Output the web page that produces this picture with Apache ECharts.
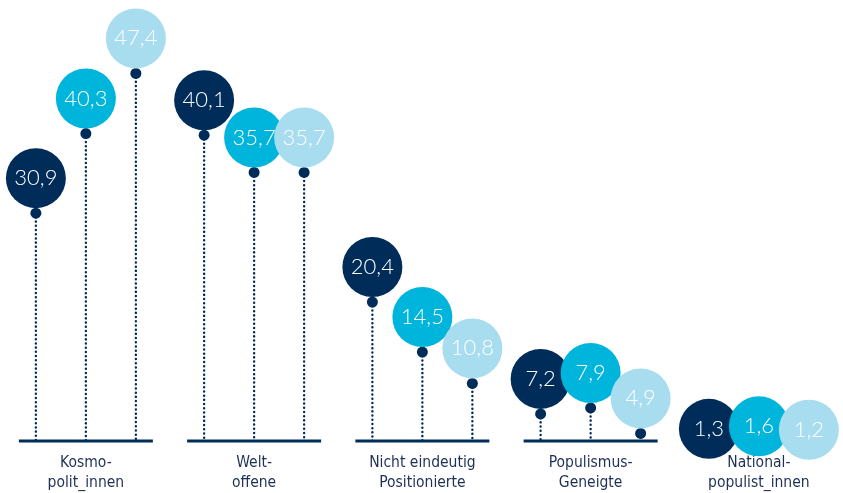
<!DOCTYPE html>
<html>
<head>
<meta charset="utf-8">
<script src="https://cdn.jsdelivr.net/npm/echarts@6/dist/echarts.min.js"></script>
<style>
html,body{margin:0;padding:0;background:#fff;}
#chart{width:843px;height:493px;}
</style>
</head>
<body>
<div id="chart"></div>
<script>
// ---- data ----
var categories = ['Kosmo-\npolit_innen', 'Welt-\noffene', 'Nicht eindeutig\nPositionierte', 'Populismus-\nGeneigte', 'National-\npopulist_innen'];
var seriesNames = ['Reihe 1', 'Reihe 2', 'Reihe 3'];
var series1 = [30.9, 40.1, 20.4, 7.2, 1.3];
var series2 = [40.3, 35.7, 14.5, 7.9, 1.6];
var series3 = [47.4, 35.7, 10.8, 4.9, 1.2];

// ---- style ----
var colors = ['#002c5a', '#00b5dc', '#a8dcef'];
var navy = '#002c5a';
var offsets = [-50, 0, 50];
var yMin = 4.0, yMax = 55;
var allSeries = [series1, series2, series3];

function fmt(v){ return String(v).replace('.', ','); }

var chart = echarts.init(document.getElementById('chart'), null, {renderer:'canvas'});

var seriesList = [];

// baselines per group
seriesList.push({
  type: 'custom',
  z: 1,
  data: categories.map(function(c, i){ return [i, yMin]; }),
  renderItem: function(params, api){
    var c = api.coord([api.value(0), api.value(1)]);
    return {
      type: 'line',
      shape: {x1: c[0] - 67, y1: c[1], x2: c[0] + 67, y2: c[1]},
      style: {stroke: navy, lineWidth: 3}
    };
  },
  silent: true
});

// stems
allSeries.forEach(function(arr, s){
  seriesList.push({
    type: 'custom',
    z: 2,
    data: arr.map(function(v, i){ return [i, v]; }),
    renderItem: function(params, api){
      var p = api.coord([api.value(0), api.value(1)]);
      var b = api.coord([api.value(0), yMin]);
      if (p[1] >= b[1]) return null;
      var x = p[0] + offsets[s];
      return {
        type: 'line',
        shape: {x1: x, y1: p[1], x2: x, y2: b[1]},
        style: {stroke: navy, lineWidth: 2.4, lineDash: [0.1, 4.1], lineCap: 'round'}
      };
    },
    silent: true
  });
});

// dots
allSeries.forEach(function(arr, s){
  seriesList.push({
    type: 'scatter',
    z: 3,
    clip: true,
    data: arr.map(function(v, i){ return [i, v]; }),
    symbol: 'circle',
    symbolSize: 11,
    symbolOffset: [offsets[s], 0],
    itemStyle: {color: navy, opacity: 1},
    silent: true
  });
});

// circles with labels
allSeries.forEach(function(arr, s){
  seriesList.push({
    type: 'scatter',
    name: seriesNames[s],
    z: 4 + s,
    clip: false,
    data: arr.map(function(v, i){ return [i, v]; }),
    symbol: 'circle',
    symbolSize: 60,
    symbolOffset: [offsets[s], -35],
    itemStyle: {color: colors[s], opacity: 1},
    label: {
      show: true,
      position: 'inside',
      formatter: function(p){ return fmt(p.value[1]); },
      color: '#ffffff',
      fontFamily: 'Lato',
      fontSize: 22,
      fontWeight: 300
    },
    emphasis: {disabled: true}
  });
});

chart.setOption({
  animation: false,
  grid: {left: 1.75, width: 842.5, top: 9, bottom: 48},
  xAxis: {
    type: 'category',
    data: categories,
    boundaryGap: true,
    axisLine: {show: false},
    axisTick: {show: false},
    splitLine: {show: false},
    axisLabel: {
      interval: 0,
      margin: 12,
      color: '#1e3056',
      fontFamily: '"Liberation Sans Narrow", "DejaVu Sans Condensed", sans-serif',
      fontSize: 15.5,
      lineHeight: 20
    }
  },
  yAxis: {
    type: 'value',
    min: yMin,
    max: yMax,
    show: false
  },
  series: seriesList
});
</script>
</body>
</html>
